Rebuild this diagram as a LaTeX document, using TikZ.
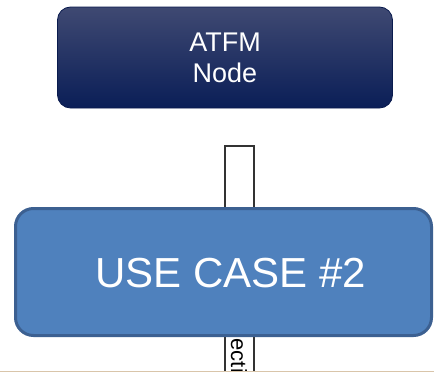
\documentclass[tikz,border=0pt]{standalone}
\usepackage{fontspec}
\setmainfont{Liberation Sans}
\begin{document}
\begin{tikzpicture}[x=1pt,y=-1pt,
  navybox/.style={rounded corners=13pt, draw=navyedge, line width=0.8pt,
    top color=navytop, middle color=navymid, bottom color=navybot,
    minimum width=335pt, minimum height=101pt, inner sep=0pt,
    text=white, align=center, font=\fontsize{27}{31}\selectfont},
  casebox/.style={rounded corners=18pt, draw=caseedge, line width=3pt,
    fill=casefill, minimum width=416pt, minimum height=127pt, inner sep=0pt},
  casetext/.style={text=white, inner sep=0pt, font=\fontsize{42}{50}\selectfont},
  linkbar/.style={draw=barline, line width=1.6pt, fill=white,
    minimum width=29pt, minimum height=260pt, inner sep=0pt, anchor=north},
  bartext/.style={rotate=-90, anchor=base west, inner sep=0pt,
    font=\fontsize{22}{26}\selectfont}]
\definecolor{navytop}{HTML}{3F4972}
\definecolor{navymid}{HTML}{0B215B}
\definecolor{navybot}{HTML}{0A1E57}
\definecolor{navyedge}{HTML}{0A1B4E}
\definecolor{casefill}{HTML}{4F81BD}
\definecolor{caseedge}{HTML}{3C6091}
\definecolor{barline}{HTML}{333333}
\definecolor{floorline}{HTML}{D9C5AA}
\clip (0,0) rectangle (434,372);
\fill[white] (0,0) rectangle (434,372);

% link bar running down behind the use case box
\node[linkbar] (bar) at (239.5,145) {};

% ATFM node
\node[navybox] (atfm) at (225,57.5) {ATFM\\Node};

% use case box
\node[casebox] (uc) at (223.5,272) {};
\node[casetext] (uclabel) at (230.5,273) {USE CASE \#2};

% label on the link bar, below the box
\node[bartext] (barlabel) at (231,338.5) {ecti};

% bottom rule
\draw[floorline, line width=1pt] (0,371) -- (434,371);
\end{tikzpicture}
\end{document}
